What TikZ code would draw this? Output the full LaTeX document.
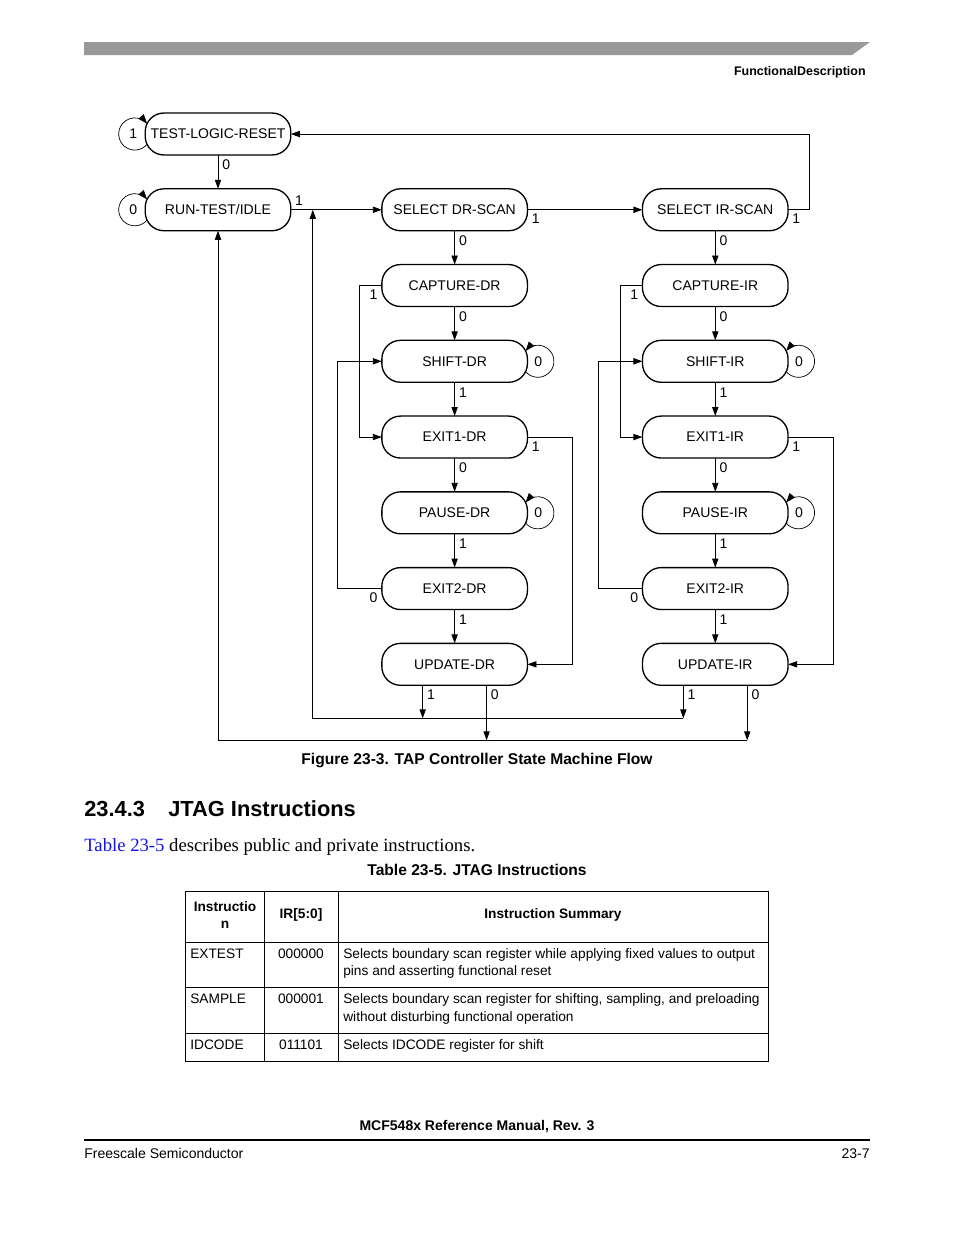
\documentclass[tikz,border=0pt]{standalone}
\usepackage{fontspec}
\setmainfont{Liberation Serif}
\setsansfont{Liberation Sans}
\usepackage{xcolor}
\usetikzlibrary{arrows.meta, positioning}

\definecolor{barGray}{RGB}{153,153,153}
\definecolor{linkBlue}{RGB}{20,20,225}

\begin{document}
\begin{tikzpicture}[
    x=0.6415pt, y=0.6415pt,
    font=\sffamily\fontsize{9}{11}\selectfont,
    node distance=21.7pt and 58.4pt,
    tapstate/.style={rectangle, draw, line width=0.85pt, outer sep=0pt, rounded corners=12pt, minimum width=93.4pt, minimum height=26.9pt, inner sep=0pt},
    >={Triangle[length=5.8pt, width=4pt]},
    flow/.style={->, line width=0.6pt},
    selfloop/.style={-{Triangle[length=6pt, width=4.4pt]}, line width=0.45pt},
    lbl/.style={inner sep=2.5pt},
    pagetext/.style={inner sep=0pt},
    headtext/.style={pagetext, font=\sffamily\bfseries\fontsize{8}{10}\selectfont},
    captext/.style={pagetext, font=\sffamily\bfseries\fontsize{10}{12}\selectfont},
    sectext/.style={pagetext, font=\sffamily\bfseries\fontsize{14}{16}\selectfont},
    bodytext/.style={pagetext, font=\rmfamily\fontsize{12}{14}\selectfont},
    celltext/.style={pagetext, font=\sffamily\fontsize{8.8}{11}\selectfont},
    cellhead/.style={pagetext, align=center, font=\sffamily\bfseries\fontsize{8.8}{10.3}\selectfont}
]
\useasboundingbox (0,0) rectangle (954,-1235);

% Page header
\fill[barGray] (84,-42) -- (870,-42) -- (852,-55) -- (84,-55) -- cycle;
\node[headtext, anchor=base east] (pagehead) at (866,-75.5) {FunctionalDescription};

% Nodes
\node[tapstate] (tlr) at (218,-134) {TEST-LOGIC-RESET};
\node[tapstate, below=of tlr] (rti) {RUN-TEST/IDLE};
\node[tapstate, right=of rti] (sdr) {SELECT DR-SCAN};
\node[tapstate, right=73.8pt of sdr] (sir) {SELECT IR-SCAN};

\node[tapstate, below=of sdr] (capdr) {CAPTURE-DR};
\node[tapstate, below=of capdr] (shiftdr) {SHIFT-DR};
\node[tapstate, below=of shiftdr] (exitonedr) {EXIT1-DR};
\node[tapstate, below=of exitonedr] (pausedr) {PAUSE-DR};
\node[tapstate, below=of pausedr] (exittwodr) {EXIT2-DR};
\node[tapstate, below=of exittwodr] (updatedr) {UPDATE-DR};

\node[tapstate, below=of sir] (capir) {CAPTURE-IR};
\node[tapstate, below=of capir] (shiftir) {SHIFT-IR};
\node[tapstate, below=of shiftir] (exitoneir) {EXIT1-IR};
\node[tapstate, below=of exitoneir] (pauseir) {PAUSE-IR};
\node[tapstate, below=of pauseir] (exittwoir) {EXIT2-IR};
\node[tapstate, below=of exittwoir] (updateir) {UPDATE-IR};

% Self loops
\draw[selfloop] ([shift={(1.2pt,-6.6pt)}]tlr.west) arc[start angle=-40, end angle=-320, radius=10.3pt];
\node[lbl] (tlrloop) at ([xshift=-7.7pt]tlr.west) {1};
\draw[selfloop] ([shift={(1.2pt,-6.6pt)}]rti.west) arc[start angle=-40, end angle=-320, radius=10.3pt];
\node[lbl] (rtiloop) at ([xshift=-7.7pt]rti.west) {0};
\draw[selfloop] ([shift={(-1.2pt,-6.6pt)}]shiftdr.east) arc[start angle=-140, end angle=140, radius=10.3pt];
\node[lbl] (shiftdrloop) at ([xshift=7pt]shiftdr.east) {0};
\draw[selfloop] ([shift={(-1.2pt,-6.6pt)}]pausedr.east) arc[start angle=-140, end angle=140, radius=10.3pt];
\node[lbl] (pausedrloop) at ([xshift=7pt]pausedr.east) {0};
\draw[selfloop] ([shift={(-1.2pt,-6.6pt)}]shiftir.east) arc[start angle=-140, end angle=140, radius=10.3pt];
\node[lbl] (shiftirloop) at ([xshift=7pt]shiftir.east) {0};
\draw[selfloop] ([shift={(-1.2pt,-6.6pt)}]pauseir.east) arc[start angle=-140, end angle=140, radius=10.3pt];
\node[lbl] (pauseirloop) at ([xshift=7pt]pauseir.east) {0};

% Arrows
\draw[flow] (tlr) -- node[lbl, right, pos=0.3] {0} (rti);
\draw[flow] (rti) -- node[lbl, pos=0, above right] {1} (sdr);
\draw[flow] (sdr) -- node[lbl, pos=0, below right] {1} (sir);
\draw[flow] (sir.east) node[lbl, below right] {1} -- ++(13.5pt,0) |- (tlr.east);

\draw[flow] (sdr) -- node[lbl, right, pos=0.3] {0} (capdr);
\draw[flow] (capdr) -- node[lbl, right, pos=0.3] {0} (shiftdr);
\draw[flow] (shiftdr) -- node[lbl, right, pos=0.3] {1} (exitonedr);
\draw[flow] (exitonedr) -- node[lbl, right, pos=0.3] {0} (pausedr);
\draw[flow] (pausedr) -- node[lbl, right, pos=0.3] {1} (exittwodr);
\draw[flow] (exittwodr) -- node[lbl, right, pos=0.3] {1} (updatedr);
\draw[flow] (capdr.west) node[lbl, below left] {1} -- ++(-14.1pt,0) |- (exitonedr.west);
\draw[flow] (exittwodr.west) node[lbl, below left] {0} -- ++(-28.2pt,0) |- (shiftdr.west);
\draw[flow] (exitonedr.east) node[lbl, below right] {1} -- ++(28.9pt,0) |- (updatedr.east);

\draw[flow] (sir) -- node[lbl, right, pos=0.3] {0} (capir);
\draw[flow] (capir) -- node[lbl, right, pos=0.3] {0} (shiftir);
\draw[flow] (shiftir) -- node[lbl, right, pos=0.3] {1} (exitoneir);
\draw[flow] (exitoneir) -- node[lbl, right, pos=0.3] {0} (pauseir);
\draw[flow] (pauseir) -- node[lbl, right, pos=0.3] {1} (exittwoir);
\draw[flow] (exittwoir) -- node[lbl, right, pos=0.3] {1} (updateir);
\draw[flow] (capir.west) node[lbl, below left] {1} -- ++(-14.1pt,0) |- (exitoneir.west);
\draw[flow] (exittwoir.west) node[lbl, below left] {0} -- ++(-28.2pt,0) |- (shiftir.west);
\draw[flow] (exitoneir.east) node[lbl, below right] {1} -- ++(28.9pt,0) |- (updateir.east);

% Return paths
\coordinate (rtijoin) at ([xshift=14.1pt]rti.east);
\draw[flow] ([xshift=-20.5pt]updatedr.south) -- node[lbl, right, pos=0.28] {1} ++(0,-21.2pt) coordinate (drone);
\draw[flow] ([xshift=20.5pt]updatedr.south) -- node[lbl, right, pos=0.17] {0} ++(0,-35.3pt) coordinate (drzero);
\draw[flow] ([xshift=-20.5pt]updateir.south) -- node[lbl, right, pos=0.28] {1} ++(0,-21.2pt) coordinate (irone);
\draw[flow] ([xshift=20.5pt]updateir.south) -- node[lbl, right, pos=0.17] {0} ++(0,-35.3pt) coordinate (irzero);
\draw[flow] (irone) -| (rtijoin);
\draw[flow] (irzero) -| (rti.south);

% Caption and section text
\node[captext, anchor=base] (figcap) at (477,-764.5) {Figure 23-3. TAP Controller State Machine Flow};
\node[sectext, anchor=base west] (secnum) at (84,-816) {23.4.3};
\node[sectext, anchor=base west] (sectitle) at (168,-816) {JTAG Instructions};
\node[bodytext, anchor=base west] (intro) at (84,-851) {\textcolor{linkBlue}{Table 23-5} describes public and private instructions.};
\node[captext, anchor=base] (tabcap) at (477,-875.5) {Table 23-5. JTAG Instructions};

% Table
\draw[line width=0.6pt] (185,-891) rectangle (768,-1061);
\draw[line width=0.6pt] (264,-891) -- (264,-1061);
\draw[line width=0.6pt] (338,-891) -- (338,-1061);
\draw[line width=0.6pt] (185,-942) -- (768,-942);
\draw[line width=0.6pt] (185,-987) -- (768,-987);
\draw[line width=0.6pt] (185,-1033) -- (768,-1033);

\node[cellhead] (hinstr) at (225,-915) {Instructio\\n};
\node[cellhead] (hir) at (301,-915) {IR[5:0]};
\node[cellhead] (hsum) at (553,-915) {Instruction Summary};

\node[celltext, anchor=base west] (extest) at (190,-958.5) {EXTEST};
\node[celltext, anchor=base] (extestcode) at (301,-958.5) {000000};
\node[celltext, anchor=base west] (extestsum) at (343,-958.5) {Selects boundary scan register while applying fixed values to output};
\node[celltext, anchor=base west] (extestsumb) at (343,-975.5) {pins and asserting functional reset};

\node[celltext, anchor=base west] (sample) at (190,-1003.5) {SAMPLE};
\node[celltext, anchor=base] (samplecode) at (301,-1003.5) {000001};
\node[celltext, anchor=base west] (samplesum) at (343,-1003.5) {Selects boundary scan register for shifting, sampling, and preloading};
\node[celltext, anchor=base west] (samplesumb) at (343,-1021.5) {without disturbing functional operation};

\node[celltext, anchor=base west] (idcode) at (190,-1049.5) {IDCODE};
\node[celltext, anchor=base] (idcodecode) at (301,-1049.5) {011101};
\node[celltext, anchor=base west] (idcodesum) at (343,-1049.5) {Selects IDCODE register for shift};

% Page footer
\node[pagetext, font=\sffamily\bfseries\fontsize{9}{11}\selectfont, anchor=base] (manual) at (477,-1130.5) {MCF548x Reference Manual, Rev. 3};
\draw[line width=0.8pt] (84,-1140) -- (870,-1140);
\node[pagetext, font=\sffamily\fontsize{9}{11}\selectfont, anchor=base west] (vendor) at (84,-1158.5) {Freescale Semiconductor};
\node[pagetext, font=\sffamily\fontsize{9}{11}\selectfont, anchor=base east] (pagenum) at (870,-1158.5) {23-7};

\end{tikzpicture}
\end{document}
